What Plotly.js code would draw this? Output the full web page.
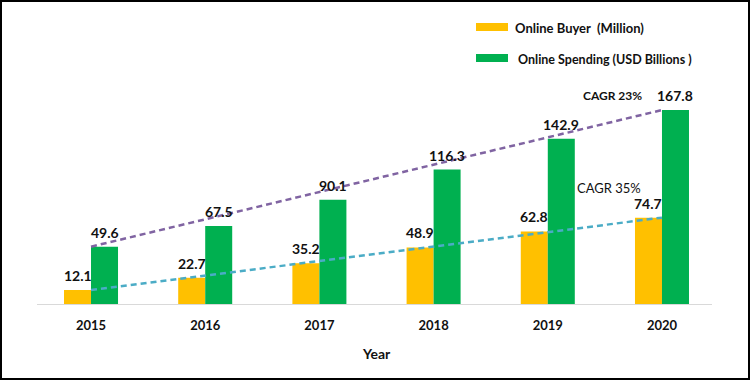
<!DOCTYPE html>
<html>
<head>
<meta charset="utf-8">
<script src="https://cdn.plot.ly/plotly-3.0.1.min.js"></script>
<style>
  html, body { margin: 0; padding: 0; background: #fff; }
  #wrap { position: relative; width: 750px; height: 380px; }
  #chart { width: 750px; height: 380px; }
  #frame { position: absolute; left: 0; top: 0; width: 750px; height: 380px; box-sizing: border-box; border: 2px solid #000; pointer-events: none; }
</style>
</head>
<body>
<div id="wrap"><div id="chart"></div><div id="frame"></div></div>
<script>
// ---- data ----
const years = ['2015', '2016', '2017', '2018', '2019', '2020'];
const onlineBuyers = [12.1, 22.7, 35.2, 48.9, 62.8, 74.7];
const onlineSpending = [49.6, 67.5, 90.1, 116.3, 142.9, 167.8];
const buyerLabel = 'Online Buyer  (Million)';
const spendingLabel = 'Online Spending (USD Billions )';
const cagrSpending = 'CAGR 23%';
const cagrBuyers = 'CAGR 35%';
const xTitle = 'Year';

// ---- layout helpers (pixel -> paper) ----
const W = 750, H = 380;
const M = { l: 37, r: 38, t: 15, b: 76 };
const PW = W - M.l - M.r, PH = H - M.t - M.b;
const px = x => (x - M.l) / PW;
const py = y => (H - M.b - y) / PH;

const FONT = 'Lato, "Open Sans", sans-serif';
const YELLOW = '#FFC000', GREEN = '#00B050';

const fmt = v => v.toFixed(1);

const traces = [
  {
    type: 'bar', x: years, y: onlineBuyers, name: buyerLabel,
    marker: { color: YELLOW }, hoverinfo: 'none'
  },
  {
    type: 'bar', x: years, y: onlineSpending, name: spendingLabel,
    marker: { color: GREEN }, hoverinfo: 'none'
  },
  {
    type: 'scatter', mode: 'lines',
    x: [years[0], years[years.length - 1]],
    y: [onlineSpending[0], onlineSpending[onlineSpending.length - 1]],
    line: { color: '#8064A2', width: 2.5, dash: '6px,4px' },
    hoverinfo: 'none', cliponaxis: false
  },
  {
    type: 'scatter', mode: 'lines',
    x: [years[0], years[years.length - 1]],
    y: [onlineBuyers[0], onlineBuyers[onlineBuyers.length - 1]],
    line: { color: '#4BACC6', width: 2.5, dash: '6px,4px' },
    hoverinfo: 'none', cliponaxis: false
  }
];

const labelFont = { family: FONT, size: 14, color: '#111', weight: 700 };
const valueLabels = [];
years.forEach((yr, i) => {
  valueLabels.push({ xref: 'x', yref: 'y', x: i, y: onlineBuyers[i], xshift: -13.5, yshift: 4,
    xanchor: 'center', yanchor: 'bottom', showarrow: false, text: fmt(onlineBuyers[i]), font: labelFont });
  valueLabels.push({ xref: 'x', yref: 'y', x: i, y: onlineSpending[i], xshift: 13.5, yshift: 4,
    xanchor: 'center', yanchor: 'bottom', showarrow: false, text: fmt(onlineSpending[i]), font: labelFont });
});

const layout = {
  width: W, height: H,
  margin: M,
  paper_bgcolor: '#fff', plot_bgcolor: '#fff',
  showlegend: false,
  barmode: 'group', bargap: 0.527, bargroupgap: 0,
  font: { family: FONT, color: '#111' },
  xaxis: {
    type: 'category', range: [-0.473, 5.438],
    showgrid: false, zeroline: false,
    showline: true, linecolor: '#D9D9D9', linewidth: 1,
    ticks: 'outside', ticklen: 9, tickcolor: 'rgba(0,0,0,0)',
    tickfont: { family: FONT, size: 13, color: '#111', weight: 700 },
    fixedrange: true
  },
  yaxis: {
    range: [0, 250], visible: false, showgrid: false, zeroline: false, fixedrange: true
  },
  shapes: [
    { type: 'rect', xref: 'paper', yref: 'paper', x0: px(476), x1: px(508), y0: py(31), y1: py(23), fillcolor: YELLOW, line: { width: 0 } },
    { type: 'rect', xref: 'paper', yref: 'paper', x0: px(476), x1: px(508), y0: py(62), y1: py(54), fillcolor: GREEN, line: { width: 0 } }
  ],
  annotations: valueLabels.concat([
    { xref: 'paper', yref: 'paper', x: px(513), y: py(28), xanchor: 'left', yanchor: 'middle', showarrow: false,
      text: buyerLabel, font: { family: FONT, size: 13, color: '#111', weight: 700 } },
    { xref: 'paper', yref: 'paper', x: px(516), y: py(59), xanchor: 'left', yanchor: 'middle', showarrow: false,
      text: spendingLabel, font: { family: FONT, size: 12.5, color: '#111', weight: 700 } },
    { xref: 'paper', yref: 'paper', x: px(612), y: py(96), xanchor: 'center', yanchor: 'middle', showarrow: false,
      text: cagrSpending, font: { family: FONT, size: 12, color: '#111', weight: 700 } },
    { xref: 'paper', yref: 'paper', x: px(609), y: py(188), xanchor: 'center', yanchor: 'middle', showarrow: false,
      text: cagrBuyers, font: { family: FONT, size: 13, color: '#111' } },
    { xref: 'paper', yref: 'paper', x: px(377), y: py(353), xanchor: 'center', yanchor: 'middle', showarrow: false,
      text: xTitle, font: { family: FONT, size: 14, color: '#111', weight: 700 } }
  ])
};

Plotly.newPlot('chart', traces, layout, { staticPlot: true, displayModeBar: false });
</script>
</body>
</html>
